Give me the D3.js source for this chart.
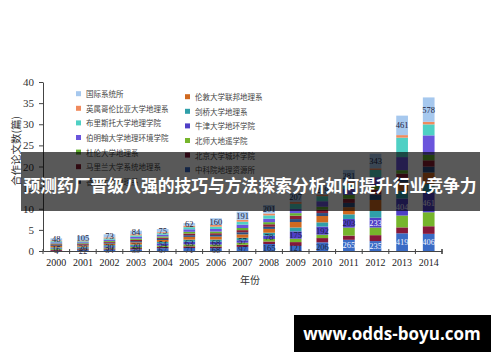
<!DOCTYPE html>
<html>
<head>
<meta charset="utf-8">
<script src="https://cdn.jsdelivr.net/npm/d3@7"></script>
<style>
  body { margin: 0; background: #fff; }
  svg { display: block; }
</style>
</head>
<body>
<div id="chart"></div>
<script>
// Years on the x axis
const years = [2000, 2001, 2002, 2003, 2004, 2005, 2006, 2007, 2008, 2009, 2010, 2011, 2012, 2013, 2014];

// Series, bottom of the stack first
const seriesNames = [
  "中科院地理资源所", "北京大学城环学院", "北师大地遥学院", "牛津大学地环学院",
  "剑桥大学地理系", "伦敦大学联邦地理系", "香港大学地理系", "马里兰大学系统地理系",
  "杜伦大学地理系", "伯明翰大学地理环境学院", "布里斯托大学地理学院",
  "英属哥伦比亚大学地理系", "国际系统所"
];
const seriesColors = [
  "#3a6bc5", "#84183a", "#76b52c", "#4f3fc6",
  "#2f9fa9", "#d0691f", "#2c4f80", "#8b1f33",
  "#63b12f", "#6a55dc", "#4fd0c4",
  "#f08a5d", "#a6c8ee"
];

// Values (axis units)
const sCAS      = [0.04, 0.22, 0.34, 0.39, 0.67, 0.71, 0.68, 0.97, 1.65, 1.21, 2.06, 2.65, 2.35, 4.19, 4.06];
const sPKU      = [0.22, 0.20, 0.25, 0.30, 0.30, 0.40, 0.40, 0.50, 0.60, 0.90, 1.00, 1.00, 1.40, 1.40, 1.80];
const sBNU      = [0.20, 0.18, 0.22, 0.30, 0.30, 0.45, 0.45, 0.50, 0.60, 0.80, 0.80, 1.90, 1.80, 2.80, 3.30];
const sOxford   = [0.15, 0.20, 0.30, 0.20, 0.54, 0.63, 0.68, 0.57, 0.78, 1.75, 1.92, 2.03, 2.33, 4.04, 4.61];
const sCambridge= [0.25, 0.22, 0.28, 0.35, 0.35, 0.50, 0.50, 0.60, 0.70, 0.90, 1.00, 1.10, 1.60, 1.80, 2.10];
const sUCL      = [0.33, 0.30, 0.35, 0.50, 0.45, 0.65, 0.70, 0.80, 0.90, 1.30, 1.50, 1.70, 2.60, 2.00, 2.70];
const sHKU      = [0.20, 0.16, 0.20, 0.30, 0.25, 0.40, 0.40, 0.50, 0.50, 0.70, 0.70, 1.00, 1.30, 1.10, 1.40];
const sMaryland = [0.20, 0.18, 0.22, 0.30, 0.30, 0.40, 0.40, 0.50, 0.60, 0.80, 0.80, 1.00, 1.20, 1.00, 1.50];
const sDurham   = [0.20, 0.18, 0.22, 0.30, 0.30, 0.40, 0.40, 0.50, 0.50, 0.60, 0.70, 0.90, 1.00, 0.80, 1.30];
const sBirm     = [0.27, 0.24, 0.30, 0.40, 0.40, 0.60, 0.60, 0.80, 0.80, 1.00, 1.30, 1.40, 1.90, 3.10, 4.60];
const sBristol  = [0.26, 0.22, 0.30, 0.35, 0.35, 0.50, 0.55, 0.70, 0.80, 1.20, 1.20, 1.20, 1.70, 4.60, 2.60];
const sUBC      = [0.20, 0.20, 0.24, 0.27, 0.24, 0.34, 0.39, 0.45, 0.45, 0.50, 0.40, 0.50, 0.40, 0.60, 0.60];
const sIntl     = [0.48, 1.05, 0.73, 0.84, 0.75, 0.62, 1.60, 1.91, 2.01, 2.07, 2.19, 2.81, 3.43, 4.61, 5.78];

const seriesValues = [sCAS, sPKU, sBNU, sOxford, sCambridge, sUCL, sHKU, sMaryland, sDurham, sBirm, sBristol, sUBC, sIntl];

// Data labels printed on the bars (bottom, middle, top segment)
const bottomLabels = [4, 22, 34, 39, 67, 71, 68, 97, 165, 121, 206, 265, 235, 419, 406];
const middleLabels = [15, 20, 30, 20, 54, 63, 68, 57, 78, 175, 192, 203, 233, 404, 461];
const topLabels    = [48, 105, 73, 84, 75, 62, 160, 191, 201, 207, 219, 281, 343, 461, 578];

const yTicks = [0, 5, 10, 15, 20, 25, 30, 35, 40];

const W = 500, H = 362;
const svg = d3.select("#chart").append("svg")
  .attr("width", W).attr("height", H)
  .attr("viewBox", `0 0 ${W} ${H}`);

const x = d3.scaleBand().domain(years).range([43, 442]).paddingInner(0.56).paddingOuter(0.28);
const y = d3.scaleLinear().domain([0, 40]).range([251, 82]);

// build table for the stack
const table = years.map((yr, i) => {
  const row = { year: yr };
  seriesNames.forEach((n, k) => { row[n] = seriesValues[k][i]; });
  return row;
});
const stacked = d3.stack().keys(seriesNames)(table);

// bars
const layers = svg.append("g").selectAll("g")
  .data(stacked)
  .join("g")
  .attr("fill", (d, k) => seriesColors[k]);

layers.selectAll("rect")
  .data(d => d)
  .join("rect")
  .attr("x", d => x(d.data.year))
  .attr("width", x.bandwidth())
  .attr("y", d => y(d[1]))
  .attr("height", d => y(d[0]) - y(d[1]));

// data labels
const labelSpecs = [
  { layer: 0, labels: bottomLabels },
  { layer: 3, labels: middleLabels },
  { layer: seriesNames.length - 1, labels: topLabels }
];
labelSpecs.forEach(spec => {
  const layer = stacked[spec.layer];
  svg.append("g").selectAll("text")
    .data(layer)
    .join("text")
    .attr("x", d => x(d.data.year) + x.bandwidth() / 2)
    .attr("y", d => (y(d[0]) + y(d[1])) / 2)
    .attr("text-anchor", "middle")
    .attr("dominant-baseline", "central")
    .attr("font-family", "Liberation Serif, serif")
    .attr("font-size", 8.5)
    .attr("fill", d => (spec.layer !== seriesNames.length - 1 && y(d[0]) - y(d[1]) >= 9) ? "#f2f4ff" : "#1c2340")
    .text((d, i) => spec.labels[i]);
});

// y axis
const yAxis = svg.append("g")
  .attr("transform", "translate(43,0)")
  .call(d3.axisLeft(y).tickValues(yTicks).tickSize(4).tickPadding(5).tickSizeOuter(0));
yAxis.selectAll("text").attr("font-family", "Liberation Serif, serif").attr("font-size", 11).attr("fill", "#333");
yAxis.selectAll("line, path").attr("stroke", "#444");

// x axis: labels under bars, ticks between bands
const xAxis = svg.append("g")
  .attr("transform", "translate(0,251)")
  .call(d3.axisBottom(x).tickSize(0).tickPadding(8).tickSizeOuter(0));
xAxis.selectAll("text").attr("font-family", "Liberation Serif, serif").attr("font-size", 10).attr("fill", "#222");
xAxis.select("path").attr("stroke", "#444");

const step = x.step();
const boundaries = d3.range(years.length + 1).map(i => 43 + i * step);
svg.append("g").selectAll("line")
  .data(boundaries)
  .join("line")
  .attr("x1", d => d).attr("x2", d => d)
  .attr("y1", 249).attr("y2", 254)
  .attr("stroke", "#444")
  .attr("stroke-width", (d, i) => i === boundaries.length - 1 ? 1.6 : 1);

// axis titles
svg.append("text")
  .attr("x", 250).attr("y", 279)
  .attr("text-anchor", "middle").attr("dominant-baseline", "central")
  .attr("font-family", "Noto Sans CJK SC").attr("font-size", 10).attr("fill", "#333")
  .text("年份");

svg.append("text")
  .attr("transform", "translate(15,151) rotate(-90)")
  .attr("text-anchor", "middle").attr("dominant-baseline", "central")
  .attr("font-family", "Noto Sans CJK SC").attr("font-size", 10.5).attr("fill", "#333")
  .text("合作论文数(篇)");

// legend: left column from the top of the stack, right column the rest
const n = seriesNames.length;
const leftIdx = d3.range(n - 1, 5, -1);   // 12..6
const rightIdx = d3.range(5, -1, -1);     // 5..0
const legend = svg.append("g");
function legendColumn(idx, x0, y0) {
  const g = legend.append("g").selectAll("g")
    .data(idx)
    .join("g")
    .attr("transform", (d, i) => `translate(${x0},${y0 + i * 14.6})`);
  g.append("rect").attr("x", 0).attr("y", -2.5).attr("width", 5).attr("height", 5)
    .attr("fill", d => seriesColors[d]);
  g.append("text").attr("x", 10).attr("y", 0)
    .attr("dominant-baseline", "central")
    .attr("font-family", "Noto Sans CJK SC").attr("font-size", 7.5).attr("fill", "#444")
    .text(d => seriesNames[d]);
}
legendColumn(leftIdx, 76, 93.7);
legendColumn(rightIdx, 185, 96.7);

// overlay banner
svg.append("rect")
  .attr("x", 21).attr("y", 152).attr("width", 459).attr("height", 59)
  .attr("fill", "rgba(0,0,0,0.65)");
svg.append("text")
  .attr("x", 250).attr("y", 185)
  .attr("text-anchor", "middle").attr("dominant-baseline", "central")
  .attr("font-family", "Noto Sans CJK SC").attr("font-weight", 700)
  .attr("font-size", 16.8).attr("fill", "#fff")
  .text("预测药厂晋级八强的技巧与方法探索分析如何提升行业竞争力");

// watermark box
svg.append("rect")
  .attr("x", 294).attr("y", 315).attr("width", 197).attr("height", 37)
  .attr("fill", "#000");
svg.append("text")
  .attr("x", 392).attr("y", 333.5)
  .attr("text-anchor", "middle").attr("dominant-baseline", "central")
  .attr("font-family", "Open Sans").attr("font-weight", 700)
  .attr("font-size", 17).attr("fill", "#fff")
  .text("www.odds-boyu.com");
</script>
</body>
</html>
